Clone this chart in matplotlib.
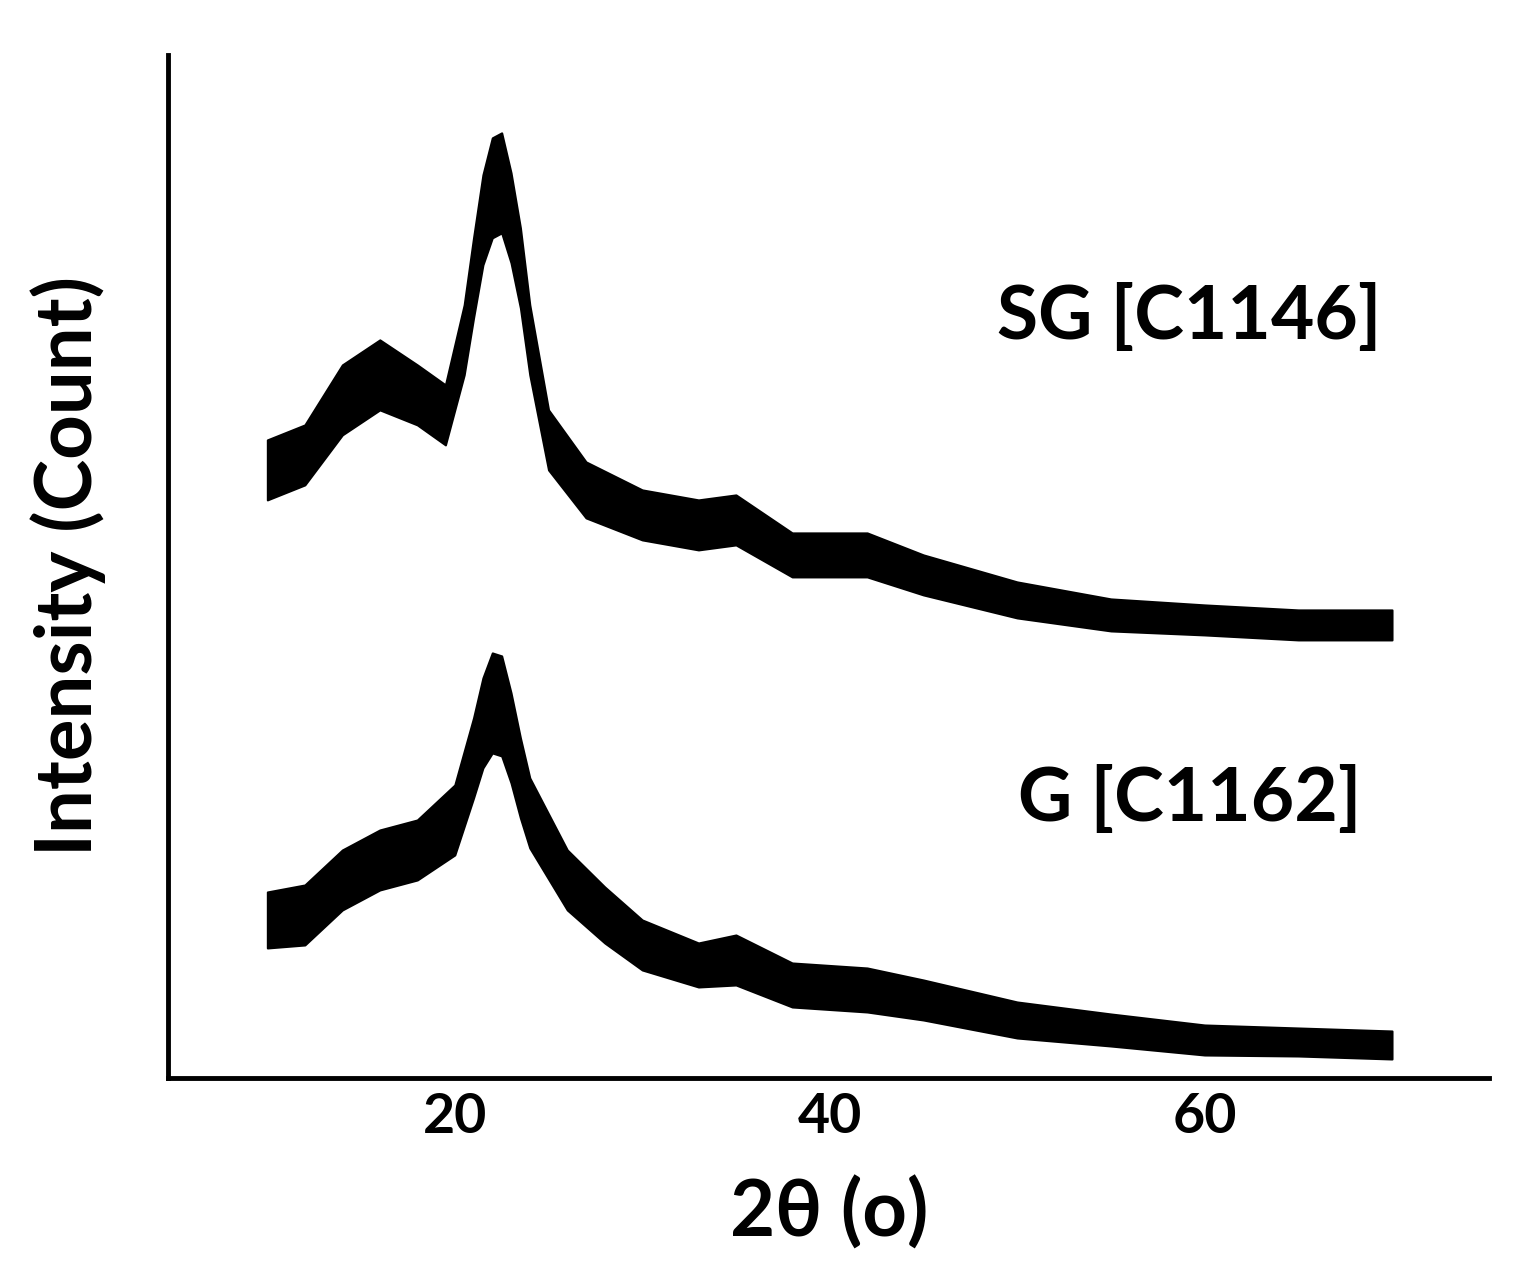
import matplotlib
matplotlib.use("Agg")
import matplotlib.pyplot as plt

# 2-theta positions (degrees)
two_theta = [10, 12, 14, 16, 18, 19.5, 20.5, 21, 21.5, 22, 22.5, 23, 23.5, 24,
             25, 27, 30, 33, 35, 38, 42, 45, 50, 55, 60, 65, 70]
# SG [C1146]: centre of trace and half-width of the noisy band (arb. units)
sg_mid = [608, 623, 678, 703, 683, 663, 738, 800, 858, 890, 895, 860, 810, 738,
          638, 588, 563, 553, 558, 523, 523, 503, 478, 463, 458, 453, 453]
sg_half = [30, 30, 35, 35, 30, 30, 35, 40, 45, 50, 50, 45, 40, 35,
           30, 28, 25, 25, 25, 22, 22, 20, 18, 16, 15, 15, 15]

two_theta_g = [10, 12, 14, 16, 18, 20, 21, 21.5, 22, 22.5, 23, 23.5, 24, 26,
               28, 30, 33, 35, 38, 42, 45, 50, 55, 60, 65, 70]
g_mid = [158, 163, 198, 218, 228, 258, 320, 355, 375, 372, 340, 300, 265, 198,
         163, 133, 113, 118, 93, 88, 78, 58, 48, 38, 36, 33]
g_half = [28, 30, 30, 30, 30, 35, 40, 45, 50, 50, 45, 40, 35, 30,
          28, 25, 22, 25, 22, 22, 20, 18, 16, 15, 14, 14]

labels = ["SG [C1146]", "G [C1162]"]
xticks = [20, 40, 60]

plt.rcParams["font.family"] = ["Lato", "DejaVu Sans"]
fig = plt.figure(figsize=(15.33, 12.87), dpi=100)
ax = fig.add_axes([0.1096, 0.1624, 0.862, 0.795])

for x, mid, half in [(two_theta, sg_mid, sg_half), (two_theta_g, g_mid, g_half)]:
    lo = [m - h for m, h in zip(mid, half)]
    hi = [m + h for m, h in zip(mid, half)]
    ax.fill_between(x, lo, hi, color="black", linewidth=1.5)

ax.text(59.2, 760, labels[0], fontsize=54, fontweight="bold", ha="center", va="center")
ax.text(59.2, 278, labels[1], fontsize=54, fontweight="bold", ha="center", va="center")

ax.set_xlim(4.7, 75.2)
ax.set_ylim(0, 1023)
ax.set_xticks(xticks)
ax.set_xticklabels([str(t) for t in xticks], fontsize=40, fontweight="bold")
ax.set_yticks([])
ax.tick_params(axis="x", length=0, pad=10)
for s in ["top", "right"]:
    ax.spines[s].set_visible(False)
for s in ["left", "bottom"]:
    ax.spines[s].set_linewidth(3.5)
ax.set_xlabel("2θ (ο)", fontsize=56, fontweight="bold", labelpad=25)
ax.set_ylabel("Intensity (Count)", fontsize=56, fontweight="bold", labelpad=45)

fig.savefig("out.png", dpi=100)
